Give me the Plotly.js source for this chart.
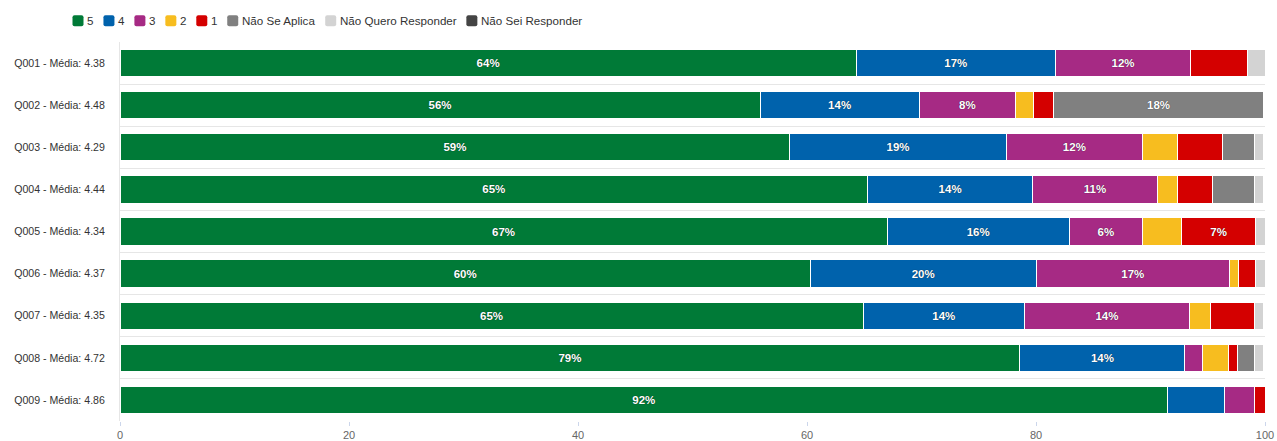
<!DOCTYPE html>
<html>
<head>
<meta charset="utf-8">
<script src="https://cdn.plot.ly/plotly-3.0.1.min.js"></script>
<style>html,body{margin:0;padding:0;background:#fff;}#chart{width:1277px;height:441px;}</style>
</head>
<body>
<div id="chart"></div>
<script>
const categories = ['Q001 - Média: 4.38','Q002 - Média: 4.48','Q003 - Média: 4.29','Q004 - Média: 4.44','Q005 - Média: 4.34','Q006 - Média: 4.37','Q007 - Média: 4.35','Q008 - Média: 4.72','Q009 - Média: 4.86'];
const seriesNames = ['5','4','3','2','1','Não Se Aplica','Não Quero Responder','Não Sei Responder'];
const s5  = [64.3, 55.9, 58.5, 65.3, 67.0, 60.3, 64.9, 78.6, 91.5];
const s4  = [17.4, 13.9, 18.9, 14.4, 15.9, 19.7, 14.1, 14.4, 5.0];
const s3  = [11.8, 8.4, 11.9, 10.9, 6.4, 16.9, 14.4, 1.5, 2.6];
const s2  = [null, 1.6, 3.1, 1.8, 3.4, 0.8, 1.8, 2.3, null];
const s1  = [5.0, 1.7, 3.9, 3.0, 6.5, 1.5, 3.9, 0.8, 0.9];
const sNSA = [null, 18.4, 2.8, 3.7, null, null, null, 1.5, null];
const sNQR = [1.5, null, 0.8, 0.8, 0.8, 0.8, 0.8, 0.8, null];
const sNSR = [null, null, null, null, null, null, null, null, null];
const xTicks = [0, 20, 40, 60, 80, 100];

const colors = ['#007a37','#0062ac','#a62a84','#f7bd1f','#d40000','#808080','#d3d3d3','#444444'];
const allSeries = [s5, s4, s3, s2, s1, sNSA, sNQR, sNSR];
const FONT = 'Liberation Sans, Arial, sans-serif';

const traces = allSeries.map((vals, i) => ({
  type: 'bar',
  orientation: 'h',
  name: seriesNames[i],
  y: categories,
  x: vals,
  marker: {color: colors[i], line: {color: '#ffffff', width: 1}},
  text: vals.map(v => (v !== null && v >= 6) ? Math.round(v) + '%' : ''),
  textposition: 'inside',
  insidetextanchor: 'middle',
  textangle: 0,
  textfont: {family: FONT, size: 11.5, color: '#ffffff', weight: 'bold', shadow: '0px 0px 1px rgba(0,0,0,0.7)'},
  hoverinfo: 'skip',
  showlegend: false
}));

// Layout geometry
const W = 1277, H = 441;
const M = {l: 120, r: 12, t: 42, b: 20};
const plotW = W - M.l - M.r, plotH = H - M.t - M.b;
const px2x = px => (px - M.l) / plotW;
const py2y = py => (H - M.b - py) / plotH;

// Custom compact legend (Highcharts style) built from series names & colours
const legFontSize = 11.6;
const ctx = document.createElement('canvas').getContext('2d');
ctx.font = legFontSize + 'px "Liberation Sans", Arial, sans-serif';
const shapes = [];
const annotations = [];
let cx = 72.5;
const cy = 20.7, sq = 11, rad = 2;
seriesNames.forEach((name, i) => {
  const x0 = cx, x1 = cx + sq, y0 = cy - sq / 2, y1 = cy + sq / 2;
  const rx = rad / plotW, ry = rad / plotH;
  const X0 = px2x(x0), X1 = px2x(x1), Y0 = py2y(y0), Y1 = py2y(y1);
  shapes.push({
    type: 'path', xref: 'paper', yref: 'paper',
    path: `M${X0 + rx},${Y0} L${X1 - rx},${Y0} Q${X1},${Y0} ${X1},${Y0 - ry} L${X1},${Y1 + ry} Q${X1},${Y1} ${X1 - rx},${Y1} L${X0 + rx},${Y1} Q${X0},${Y1} ${X0},${Y1 + ry} L${X0},${Y0 - ry} Q${X0},${Y0} ${X0 + rx},${Y0} Z`,
    fillcolor: colors[i], line: {width: 0}, layer: 'above'
  });
  const tx = x1 + 3.5;
  annotations.push({
    xref: 'paper', yref: 'paper', x: px2x(tx - 1), y: py2y(cy),
    xanchor: 'left', yanchor: 'middle', showarrow: false,
    text: name, font: {family: FONT, size: legFontSize, color: '#333333'},
    borderpad: 0
  });
  cx = tx + ctx.measureText(name).width + 10;
});

const layout = {
  width: W, height: H,
  barmode: 'stack',
  bargap: 0.35,
  margin: M,
  paper_bgcolor: '#ffffff', plot_bgcolor: '#ffffff',
  font: {family: FONT, color: '#333333', size: 11},
  showlegend: false,
  shapes: shapes,
  annotations: annotations,
  xaxis: {
    range: [0, 100], tickvals: xTicks, ticktext: xTicks.map(String),
    showgrid: false, zeroline: false, showline: false,
    ticks: 'outside', ticklen: 4, tickcolor: '#ccd6eb',
    tickfont: {size: 11, color: '#666666'}, fixedrange: true
  },
  yaxis: {
    type: 'category', autorange: 'reversed',
    tickson: 'boundaries', showgrid: true, gridcolor: '#e6e6e6', gridwidth: 1,
    ticks: '', showline: true, linecolor: '#e6e6e6', linewidth: 1, zeroline: false,
    ticklabelstandoff: 12,
    tickfont: {size: 10.6, color: '#333333'}, fixedrange: true
  }
};

Plotly.newPlot('chart', traces, layout, {displayModeBar: false, staticPlot: true});
</script>
</body>
</html>
